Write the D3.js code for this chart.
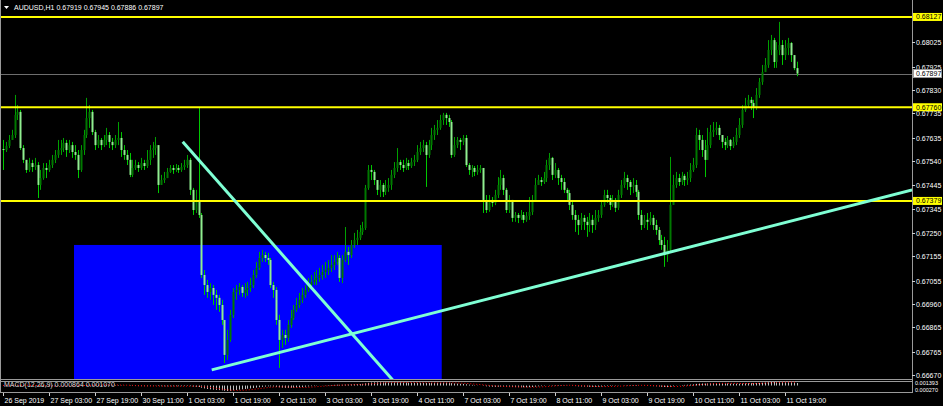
<!DOCTYPE html>
<html><head><meta charset="utf-8">
<script src="https://cdn.jsdelivr.net/npm/d3@7"></script>
<style>html,body{margin:0;padding:0;background:#000;overflow:hidden}svg{display:block}</style>
</head><body><svg id="c" width="943" height="406"></svg>
<script>
// ---- DATA (prices in points, price = pts / 100000) ----
const symbolTitle = "AUDUSD,H1  0.67919 0.67945 0.67886 0.67897";
const macdTitle = "MACD(12,26,9) 0.000864 0.001070";
const firstOpenPts = 67590;
const closePts = [
67586,67603,67627,67647,67729,67741,67594,67546,67505,67533,
67517,67525,67444,67472,67513,67505,67525,67546,67566,67586,
67594,67615,67586,67606,67578,67566,67505,67586,67647,67716,
67741,67659,67606,67627,67606,67627,67647,67619,67606,67627,
67635,67586,67566,67546,67485,67513,67525,67513,67533,67521,
67546,67586,67594,67606,67444,67464,67472,67497,67513,67505,
67513,67505,67517,67525,67546,67424,67342,67383,67322,67078,
67037,67009,67025,66997,66985,66956,66895,66753,66814,66916,
67009,67017,67029,67005,67017,67025,67037,67078,67107,67147,
67159,67147,67139,67037,67017,66895,66814,66834,66822,66875,
66903,66936,66956,66977,66997,67017,67037,67050,67058,67066,
67078,67090,67098,67107,67119,67131,67147,67066,67139,67172,
67159,67200,67220,67229,67253,67269,67432,67505,67497,67464,
67424,67444,67416,67432,67444,67485,67513,67537,67525,67513,
67533,67521,67537,67546,67578,67594,67606,67566,67606,67647,
67668,67676,67708,67729,67716,67700,67566,67606,67627,67619,
67635,67525,67505,67513,67497,67505,67513,67383,67342,67383,
67371,67403,67444,67472,67424,67342,67383,67310,67322,67310,
67322,67302,67318,67334,67383,67444,67464,67456,67472,67525,
67554,67485,67505,67472,67456,67424,67411,67363,67322,67302,
67281,67310,67294,67281,67302,67281,67310,67322,67363,67403,
67391,67363,67383,67351,67403,67444,67472,67456,67436,67444,
67416,67322,67281,67302,67294,67310,67281,67261,67220,67200,
67159,67180,67363,67444,67472,67456,67481,67464,67472,67505,
67525,67647,67627,67586,67546,67606,67659,67668,67676,67647,
67619,67606,67627,67602,67619,67647,67688,67749,67769,67790,
67777,67757,67810,67863,67903,67932,67993,68033,67944,67993,
68013,67972,68001,68021,67972,67919,67897];
const highPts = [
67627,67619,67647,67668,67810,67769,67749,67606,67546,67554,
67546,67554,67537,67505,67533,67533,67546,67566,67586,67627,
67627,67635,67627,67627,67619,67606,67586,67606,67668,67798,
67769,67749,67668,67647,67635,67647,67676,67659,67635,67647,
67700,67659,67606,67586,67574,67546,67546,67537,67554,67546,
67586,67606,67619,67639,67606,67485,67497,67513,67525,67525,
67529,67525,67533,67546,67566,67554,67432,67424,67761,67330,
67098,67058,67045,67037,67017,66997,66977,66895,66855,66936,
67025,67037,67045,67037,67045,67050,67066,67098,67131,67172,
67180,67172,67168,67147,67050,67029,66916,66855,66855,66895,
66936,66956,66985,67005,67025,67037,67066,67078,67090,67098,
67107,67119,67131,67139,67159,67159,67172,67159,67159,67273,
67192,67220,67249,67261,67281,67294,67444,67525,67525,67505,
67464,67464,67452,67464,67472,67505,67537,67594,67546,67546,
67554,67546,67554,67566,67606,67619,67627,67619,67627,67676,
67688,67708,67729,67737,67737,67729,67708,67639,67639,67635,
67647,67647,67533,67525,67521,67525,67525,67513,67403,67403,
67395,67424,67476,67505,67485,67432,67403,67383,67334,67330,
67342,67334,67334,67395,67403,67472,67485,67476,67497,67546,
67574,67558,67533,67513,67485,67472,67432,67424,67383,67342,
67322,67330,67322,67314,67330,67322,67342,67342,67383,67424,
67424,67403,67403,67391,67424,67464,67497,67485,67464,67472,
67464,67424,67342,67322,67330,67334,67322,67302,67273,67241,
67233,67220,67558,67485,67497,67489,67497,67489,67497,67533,
67554,67676,67668,67647,67627,67676,67688,67700,67700,67688,
67647,67635,67643,67631,67639,67676,67716,67769,67798,67810,
67802,67790,67838,67879,67932,67960,68033,68054,68042,68025,
68107,68033,68033,68042,68025,67972,67945];
const lowPts = [
67505,67578,67594,67627,67635,67708,67586,67533,67493,67497,
67497,67505,67391,67424,67465,67472,67497,67513,67533,67554,
67566,67578,67558,67574,67554,67546,67472,67497,67566,67635,
67676,67647,67586,67594,67586,67598,67606,67594,67586,67594,
67606,67558,67546,67525,67476,67476,67505,67497,67505,67505,
67513,67525,67554,67566,67411,67444,67452,67472,67493,67489,
67497,67493,67497,67505,67513,67403,67322,67330,67310,67066,
66997,66985,66977,66956,66936,66928,66875,66720,66733,66806,
66903,66977,66997,66989,66985,66993,67009,67025,67066,67098,
67131,67131,67119,67025,66985,66875,66700,66781,66794,66806,
66863,66895,66928,66944,66964,66985,67009,67025,67037,67037,
67050,67058,67066,67078,67090,67098,67119,67050,67045,67131,
67119,67147,67188,67200,67220,67241,67261,67424,67464,67444,
67403,67395,67395,67403,67416,67424,67472,67497,67505,67497,
67505,67505,67513,67521,67537,67566,67578,67436,67554,67586,
67627,67647,67668,67688,67688,67680,67554,67558,67594,67586,
67606,67517,67485,67476,67480,67485,67493,67330,67330,67335,
67355,67362,67391,67424,67403,67330,67330,67294,67294,67289,
67302,67289,67294,67302,67322,67383,67444,67440,67448,67456,
67505,67464,67472,67444,67424,67411,67383,67342,67302,67253,
67241,67261,67261,67233,67253,67249,67261,67294,67310,67355,
67371,67342,67355,67334,67342,67391,67432,67424,67403,67411,
67395,67302,67261,67269,67261,67281,67261,67241,67200,67180,
67111,67131,67172,67363,67432,67440,67444,67440,67444,67456,
67497,67513,67586,67558,67476,67546,67594,67639,67647,67627,
67594,67586,67594,67586,67594,67606,67635,67676,67741,67757,
67749,67716,67749,67798,67851,67903,67920,67972,67920,67920,
67972,67932,67952,67972,67944,67911,67886];
const timeLabels = ["26 Sep 2019","27 Sep 03:00","27 Sep 19:00","30 Sep 11:00","1 Oct 03:00","1 Oct 19:00","2 Oct 11:00","3 Oct 03:00","3 Oct 19:00","4 Oct 11:00","7 Oct 03:00","7 Oct 19:00","8 Oct 11:00","9 Oct 03:00","9 Oct 19:00","10 Oct 11:00","11 Oct 03:00","11 Oct 19:00"];
const barsPerTimeLabel = 16;
const priceTickLabels = ["0.68025","0.67925","0.67830","0.67735","0.67635","0.67540","0.67445","0.67345","0.67250","0.67155","0.67055","0.66960","0.66865","0.66765","0.66670"];
const levelLabels = ["0.68127", "0.67760", "0.67379"];
const bidLabel = "0.67897";
const macdScaleLabels = ["0.001393","0.000270"];
// drawn objects, anchored in (bar index, price)
const zoneBox = {i0: 24.7, i1: 152.6, pTop: 0.67200, pBottom: 0.66500};
const trendDown = [{i: 62.5, p: 0.67620}, {i: 140, p: 0.66592}];
const trendUp = [{i: 72.6, p: 0.66692}, {i: 316.2, p: 0.67424}];

// ---- LAYOUT ----
const W = 943, H = 406;
const plotR = 912, plotB = 379;
const macdT = 381, macdB = 392;
const font = "'Liberation Sans', Arial, sans-serif";
const svg = d3.select('#c');
const n = closePts.length;
const bars = closePts.map((c, i) => {
  const o = (i ? closePts[i-1] : firstOpenPts) / 1e5, cc = c / 1e5;
  return {i, o, c: cc, h: Math.max(highPts[i]/1e5, o, cc), l: Math.min(lowPts[i]/1e5, o, cc)};
});
bars[n-1].o = 0.67919;

const x = d3.scaleLinear().domain([0, n-1]).range([3, 796.5]);
const y = d3.scaleLinear().domain([0.66655, 0.68196]).range([plotB, 0]);

svg.append('rect').attr('width', W).attr('height', H).attr('fill', '#000');
svg.append('defs').append('clipPath').attr('id', 'plot')
  .append('rect').attr('x', 0).attr('y', 0).attr('width', plotR).attr('height', plotB);
const g = svg.append('g').attr('clip-path', 'url(#plot)');

// zone rectangle
g.append('rect')
  .attr('x', x(zoneBox.i0)).attr('y', y(zoneBox.pTop))
  .attr('width', x(zoneBox.i1) - x(zoneBox.i0))
  .attr('height', y(zoneBox.pBottom) - y(zoneBox.pTop))
  .attr('fill', '#0000ff');

// bid line
const bidY = Math.round(y(+bidLabel)) + 0.5;
g.append('line').attr('x1', 0).attr('x2', plotR).attr('y1', bidY).attr('y2', bidY)
  .attr('stroke', '#6e6e6e').attr('stroke-width', 1);

// candles
const cg = g.append('g');
bars.forEach(b => {
  const cx = Math.round(x(b.i)) + 0.5;
  const bull = b.c >= b.o;
  cg.append('line').attr('x1', cx).attr('x2', cx)
    .attr('y1', y(b.h)).attr('y2', y(b.l))
    .attr('stroke', bull ? '#00a000' : '#00c800').attr('stroke-width', 1);
  const top = y(Math.max(b.o, b.c)), bot = y(Math.min(b.o, b.c));
  cg.append('rect').attr('x', cx - 1).attr('y', top)
    .attr('width', 2).attr('height', Math.max(1, bot - top))
    .attr('fill', bull ? '#007800' : '#90ee90');
});

// level lines
levelLabels.forEach(t => {
  g.append('line').attr('x1', 0).attr('x2', plotR)
    .attr('y1', y(+t)).attr('y2', y(+t))
    .attr('stroke', '#ffff00').attr('stroke-width', 2);
});

// trend lines
const lineGen = d3.line().x(d => x(d.i)).y(d => y(d.p));
[trendDown, trendUp].forEach(t => {
  g.append('path').attr('d', lineGen(t)).attr('fill', 'none')
    .attr('stroke', '#7fffd4').attr('stroke-width', 3);
});

// frame
svg.append('line').attr('x1', 0.5).attr('x2', 0.5).attr('y1', 0).attr('y2', macdB)
  .attr('stroke', '#9a9a9a');
svg.append('line').attr('x1', plotR + 0.5).attr('x2', plotR + 0.5).attr('y1', 0).attr('y2', macdB)
  .attr('stroke', '#9a9a9a');
svg.append('line').attr('x1', 0).attr('x2', plotR).attr('y1', plotB + 0.5).attr('y2', plotB + 0.5)
  .attr('stroke', '#9a9a9a');

// price axis
const yAxisG = svg.append('g');
priceTickLabels.forEach(t => {
  const yy = Math.round(y(+t)) + 0.5;
  yAxisG.append('line').attr('x1', plotR).attr('x2', plotR + 3).attr('y1', yy).attr('y2', yy).attr('stroke', '#cfcfcf');
  yAxisG.append('text').attr('x', plotR + 4).attr('y', yy).attr('dy', '0.35em')
    .attr('fill', '#ffffff').attr('font-family', font).attr('font-size', 7).text(t);
});
levelLabels.forEach(t => {
  const yy = y(+t);
  yAxisG.append('rect').attr('x', plotR + 1).attr('y', yy - 4).attr('width', 29).attr('height', 8).attr('fill', '#ffff00');
  yAxisG.append('text').attr('x', plotR + 4).attr('y', yy).attr('dy', '0.35em')
    .attr('fill', '#000').attr('font-family', font).attr('font-size', 7).text(t);
});
{
  const yy = y(+bidLabel);
  yAxisG.append('rect').attr('x', plotR + 1.5).attr('y', yy - 4).attr('width', 28).attr('height', 8)
    .attr('fill', '#ffffff').attr('stroke', '#9a9a9a').attr('stroke-width', 1);
  yAxisG.append('text').attr('x', plotR + 4).attr('y', yy).attr('dy', '0.35em')
    .attr('fill', '#000').attr('font-family', font).attr('font-size', 7).text(bidLabel);
}

// header
svg.append('path').attr('d', 'M4,6 L9,6 L6.5,9 Z').attr('fill', '#fff');
svg.append('text').attr('x', 14).attr('y', 10).attr('fill', '#fff')
  .attr('font-family', font).attr('font-size', 7).text(symbolTitle);

// MACD subwindow
function ema(arr, p) {
  const k = 2 / (p + 1); const out = []; let prev = arr[0];
  arr.forEach((v, i) => { prev = i ? v * k + prev * (1 - k) : v; out.push(prev); });
  return out;
}
const cl = bars.map(b => b.c);
const e12 = ema(cl, 12), e26 = ema(cl, 26);
const macd = e12.map((v, i) => v - e26[i]);
const signal = macd.map((v, i) => d3.mean(macd.slice(Math.max(0, i - 8), i + 1)));
const ym = d3.scaleLinear().domain(d3.extent(macd.concat(signal))).range([macdB - 1, macdT + 1]);
svg.append('rect').attr('x', 0.5).attr('y', macdT + 0.5).attr('width', plotR).attr('height', macdB - macdT)
  .attr('fill', '#000').attr('stroke', '#9a9a9a');
const mg = svg.append('g');
bars.forEach((b, i) => {
  mg.append('line').attr('x1', Math.round(x(i)) + 0.5).attr('x2', Math.round(x(i)) + 0.5)
    .attr('y1', ym(0)).attr('y2', ym(macd[i])).attr('stroke', '#c0c0c0').attr('stroke-width', 1);
});
mg.append('path').attr('d', d3.line().x((d, i) => x(i)).y(d => ym(d))(signal))
  .attr('fill', 'none').attr('stroke', '#ff0000').attr('stroke-width', 1).attr('stroke-dasharray', '1,2');
svg.append('text').attr('x', 4).attr('y', macdT + 6).attr('fill', '#d8d8d8')
  .attr('font-family', font).attr('font-size', 7).text(macdTitle);
macdScaleLabels.forEach((t, k) => {
  svg.append('text').attr('x', plotR + 3).attr('y', macdT + 2 + k * 7).attr('dy', '0.35em')
    .attr('fill', '#fff').attr('font-family', font).attr('font-size', 5.5).text(t);
});

// time axis
timeLabels.forEach((t, k) => {
  const xx = Math.round(x(k * barsPerTimeLabel)) + 0.5;
  svg.append('line').attr('x1', xx).attr('x2', xx).attr('y1', macdB + 1).attr('y2', macdB + 4).attr('stroke', '#cfcfcf');
  svg.append('text').attr('x', xx + 1).attr('y', 403).attr('fill', '#fff')
    .attr('font-family', font).attr('font-size', 7).text(t);
});
</script></body></html>
